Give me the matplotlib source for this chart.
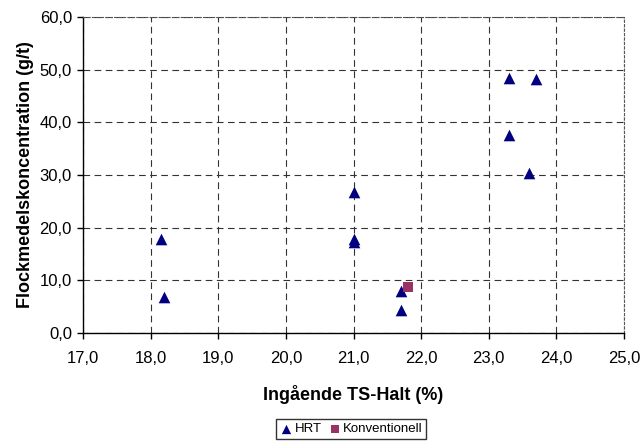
import matplotlib.pyplot as plt
from matplotlib.ticker import FuncFormatter, MultipleLocator

plt.rcParams['font.family'] = ['Liberation Sans', 'DejaVu Sans']

# HRT-försök
hrt_ts = [18.15, 18.2, 21.0, 21.0, 21.0, 21.7, 21.7, 23.3, 23.7, 23.3, 23.6]
hrt_floc = [17.8, 6.9, 26.7, 17.9, 17.2, 8.0, 4.4, 48.4, 48.2, 37.6, 30.3]

# konventionell avvattning
konv_ts = [21.8]
konv_floc = [8.7]

fig = plt.figure(figsize=(6.42, 4.41), dpi=100)
ax = fig.add_axes([0.1293, 0.2449, 0.8427, 0.7166])

ax.scatter(hrt_ts, hrt_floc, marker='^', s=70, color='#000080', label='HRT', zorder=3, linewidths=0)
ax.scatter(konv_ts, konv_floc, marker='s', s=48, color='#993366', label='Konventionell', zorder=3, linewidths=0)

ax.set_xlim(17, 25)
ax.set_ylim(0, 60)
ax.xaxis.set_major_locator(MultipleLocator(1))
ax.yaxis.set_major_locator(MultipleLocator(10))
komma = FuncFormatter(lambda v, p: f'{v:.1f}'.replace('.', ','))
ax.xaxis.set_major_formatter(komma)
ax.yaxis.set_major_formatter(komma)

ax.grid(True, color='#333333', linestyle=(0, (6, 4)), linewidth=0.8)
ax.set_axisbelow(True)

for s in ['top', 'right']:
    ax.spines[s].set_linestyle((0, (2, 2)))
    ax.spines[s].set_color('#555555')
    ax.spines[s].set_linewidth(0.8)
for s in ['left', 'bottom']:
    ax.spines[s].set_linewidth(1.0)

ax.tick_params(direction='out', length=4, width=1, labelsize=12)
ax.tick_params(axis='x', pad=9)
ax.tick_params(axis='y', pad=4)

ax.set_xlabel('Ingående TS-Halt (%)', fontsize=13, fontweight='bold', labelpad=14)
ax.set_ylabel('Flockmedelskoncentration (g/t)', fontsize=13, fontweight='bold', labelpad=4)

fig.legend(loc='center', bbox_to_anchor=(351 / 642, 1 - 429 / 441), ncol=2, fontsize=9.5,
           frameon=True, fancybox=False, edgecolor='black', handletextpad=0.1,
           columnspacing=0.5, borderpad=0.3, handlelength=1.0, markerscale=0.8)

plt.savefig('out.png', dpi=100)
